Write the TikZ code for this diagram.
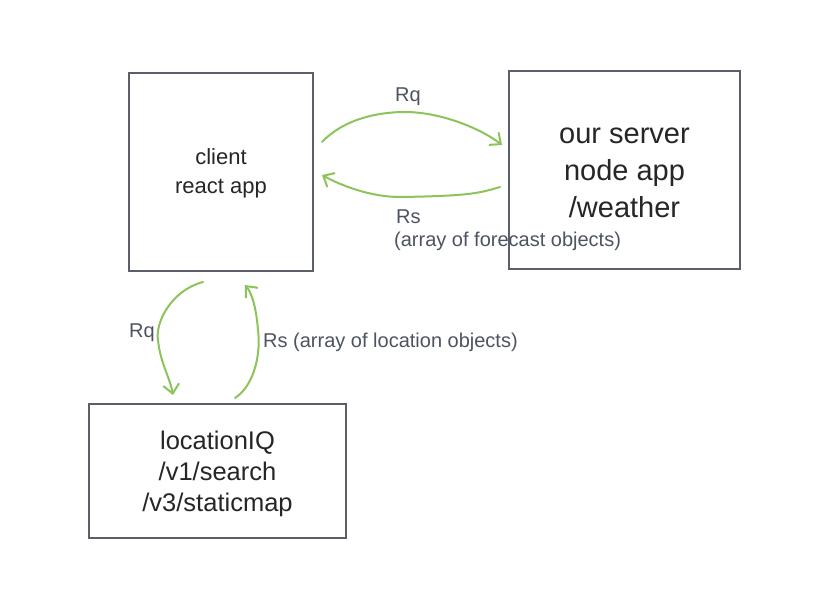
\documentclass[tikz,border=0pt]{standalone}
\usepackage{fontspec}
\setmainfont{Liberation Sans}
\usetikzlibrary{arrows.meta}
\definecolor{boxline}{HTML}{5B5F6A}
\definecolor{boxtext}{HTML}{262626}
\definecolor{labeltext}{HTML}{4D5360}
\definecolor{arrowgreen}{HTML}{8DC45A}
\tikzset{
  box/.style={draw=boxline, line width=2pt, rectangle, align=center, text=boxtext, inner sep=0pt},
  boxlabel/.style={align=center, text=boxtext, inner sep=0pt},
  flow/.style={draw=arrowgreen, line width=2pt, line cap=round, line join=round,
    -{Straight Barb[length=9pt, width=16pt, line width=2pt]}},
  lbl/.style={text=labeltext, font=\fontsize{20}{24}\selectfont, inner sep=0pt}
}
\begin{document}
\begin{tikzpicture}[x=1pt, y=-1pt]
\useasboundingbox (0,0) rectangle (838,608);
\fill[white] (0,0) rectangle (838,608);

\node[box, minimum width=184pt, minimum height=198pt,
  label={[boxlabel, font=\fontsize{22}{29}\selectfont, yshift=-1.5pt]center:client\\react app}] (client) at (221,172) {};
\node[box, minimum width=231pt, minimum height=198pt,
  label={[boxlabel, font=\fontsize{29}{37}\selectfont, yshift=-3pt]center:our server\\node app\\/weather}] (server) at (624.5,170) {};
\node[box, minimum width=257pt, minimum height=134pt,
  label={[boxlabel, font=\fontsize{25.5}{31}\selectfont, yshift=-3pt]center:locationIQ\\/v1/search\\/v3/staticmap}] (loc) at (217.5,471) {};

% named end points
\coordinate (a1) at (322,142);
\coordinate (a2) at (502,145);
\coordinate (b1) at (500,187);
\coordinate (b2) at (322,175);
\coordinate (c1) at (203,282);
\coordinate (c2) at (173,395);
\coordinate (d1) at (235,398);
\coordinate (d2) at (245,285);

\draw[flow] (a1) .. controls (345,118) and (380,112) .. (405,112) .. controls (440,112) and (480,128) .. (a2);
\draw[flow] (b1) .. controls (480,193) and (470,196) .. (400,197) .. controls (370,197) and (340,185) .. (b2);
\draw[flow] (c1) .. controls (172,290) and (155,322) .. (158,340) .. controls (160,362) and (170,378) .. (c2);
\draw[flow] (d1) .. controls (255,385) and (261,352) .. (258,330) .. controls (256,305) and (251,292) .. (d2);

\node[lbl] (rq1) at (408,97) {Rq};
\node[lbl, anchor=west] (rs1) at (396,217) {Rs};
\node[lbl, anchor=west] (rs1b) at (394,241) {(array of forecast objects)};
\node[lbl] (rq2) at (142,333) {Rq};
\node[lbl, anchor=west] (rs2) at (263,342) {Rs (array of location objects)};
\end{tikzpicture}
\end{document}
